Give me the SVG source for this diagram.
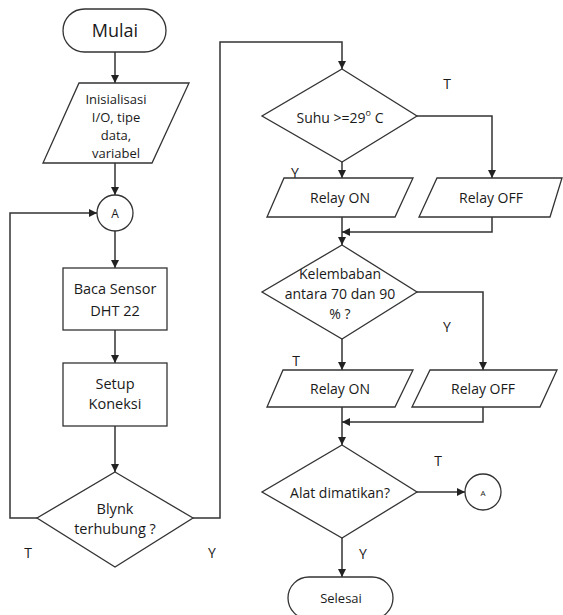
<svg xmlns="http://www.w3.org/2000/svg" width="563" height="615" viewBox="0 0 563 615">
<defs>
<marker id="ah" viewBox="0 0 10 10" refX="10" refY="5" markerWidth="8" markerHeight="8" markerUnits="userSpaceOnUse" orient="auto">
<path d="M0,0 L10,5 L0,10 z" fill="#222"/>
</marker>
<style>
.s{fill:#fff;stroke:#333;stroke-width:1.3}
.c{fill:none;stroke:#333;stroke-width:1.5}
.t{font-family:"Open Sans","Liberation Sans",sans-serif;font-size:14px;fill:#1a1a1a;text-anchor:middle;dominant-baseline:central}
.l{font-family:"Open Sans","Liberation Sans",sans-serif;font-size:14px;fill:#1a1a1a;text-anchor:middle;dominant-baseline:central}
</style>
</defs>
<rect width="563" height="615" fill="#fff"/>
<g id="connectors">
<path class="c" d="M115,52 V83" marker-end="url(#ah)"/>
<path class="c" d="M115,163 V195" marker-end="url(#ah)"/>
<path class="c" d="M115,231 V268" marker-end="url(#ah)"/>
<path class="c" d="M115,330 V363" marker-end="url(#ah)"/>
<path class="c" d="M115,426 V472" marker-end="url(#ah)"/>
<path class="c" d="M37,518 H10 V213 H97" marker-end="url(#ah)"/>
<path class="c" d="M193,518 H220 V42 H342 V69" marker-end="url(#ah)"/>
<path class="c" d="M342,162 V178" marker-end="url(#ah)"/>
<path class="c" d="M417,116 H492 V178" marker-end="url(#ah)"/>
<path class="c" d="M342,217 V245" marker-end="url(#ah)"/>
<path class="c" d="M492,217 V232 H342" marker-end="url(#ah)"/>
<path class="c" d="M342,339 V370" marker-end="url(#ah)"/>
<path class="c" d="M417,292 H483 V370" marker-end="url(#ah)"/>
<path class="c" d="M342,407 V445" marker-end="url(#ah)"/>
<path class="c" d="M483,407 V422 H342" marker-end="url(#ah)"/>
<path class="c" d="M417,492 H465" marker-end="url(#ah)"/>
<path class="c" d="M342,538 V577" marker-end="url(#ah)"/>
</g>
<g id="mulai">
<rect class="s" x="63" y="9" width="103" height="43" rx="21.5"/>
<text class="t" x="115" y="30" style="font-size:18px">Mulai</text>
</g>
<g id="init">
<polygon class="s" points="79,83 189,83 152,163 43,163"/>
<text class="t" x="116" y="99" style="font-size:13px">Inisialisasi</text>
<text class="t" x="116" y="117" style="font-size:13px">I/O, tipe</text>
<text class="t" x="116" y="135" style="font-size:13px">data,</text>
<text class="t" x="116" y="153" style="font-size:13px">variabel</text>
</g>
<g id="conA1">
<circle class="s" cx="115" cy="213" r="18"/>
<text class="t" x="115" y="213" style="font-size:12px">A</text>
</g>
<g id="baca">
<rect class="s" x="63" y="268" width="104" height="62"/>
<text class="t" x="115" y="288" style="font-size:14.5px">Baca Sensor</text>
<text class="t" x="115" y="310" style="font-size:14.5px">DHT 22</text>
</g>
<g id="setup">
<rect class="s" x="63" y="363" width="104" height="63"/>
<text class="t" x="115" y="383" style="font-size:14.5px">Setup</text>
<text class="t" x="115" y="403" style="font-size:14.5px">Koneksi</text>
</g>
<g id="blynk">
<polygon class="s" points="115,472 193,518 115,567 37,518"/>
<text class="t" x="115" y="508" style="font-size:14.5px">Blynk</text>
<text class="t" x="115" y="528" style="font-size:14.5px">terhubung ?</text>
</g>
<text class="l" x="28" y="552">T</text>
<text class="l" x="212" y="552">Y</text>
<g id="suhu">
<polygon class="s" points="342,69 417,116 342,162 262,116"/>
<text class="t" x="340" y="117">Suhu &gt;=29<tspan dy="-5" style="font-size:9px">o</tspan><tspan dy="5"> C</tspan></text>
</g>
<text class="l" x="447" y="83">T</text>
<text class="l" x="295" y="172">Y</text>
<g id="relayon1">
<polygon class="s" points="284,178 413,178 395,217 267,217"/>
<text class="t" x="340" y="197">Relay ON</text>
</g>
<g id="relayoff1">
<polygon class="s" points="437,178 562,178 550,217 419,217"/>
<text class="t" x="491" y="197">Relay OFF</text>
</g>
<g id="kelembaban">
<polygon class="s" points="342,245 417,292 342,339 262,292"/>
<text class="t" x="340" y="273">Kelembaban</text>
<text class="t" x="340" y="293">antara 70 dan 90</text>
<text class="t" x="340" y="313">% ?</text>
</g>
<text class="l" x="447" y="326">Y</text>
<text class="l" x="296" y="360">T</text>
<g id="relayon2">
<polygon class="s" points="283,370 413,370 395,407 267,407"/>
<text class="t" x="340" y="388">Relay ON</text>
</g>
<g id="relayoff2">
<polygon class="s" points="430,370 557,370 540,407 412,407"/>
<text class="t" x="483" y="388">Relay OFF</text>
</g>
<g id="alat">
<polygon class="s" points="342,445 417,492 342,538 262,492"/>
<text class="t" x="340" y="492">Alat dimatikan?</text>
</g>
<text class="l" x="438" y="460">T</text>
<text class="l" x="363" y="553">Y</text>
<g id="conA2">
<circle class="s" cx="483" cy="492" r="18"/>
<text class="t" x="483" y="492" style="font-size:8px">A</text>
</g>
<g id="selesai">
<rect class="s" x="288" y="577" width="105" height="42" rx="21"/>
<text class="t" x="341" y="598" style="font-size:13px">Selesai</text>
</g>
</svg>
